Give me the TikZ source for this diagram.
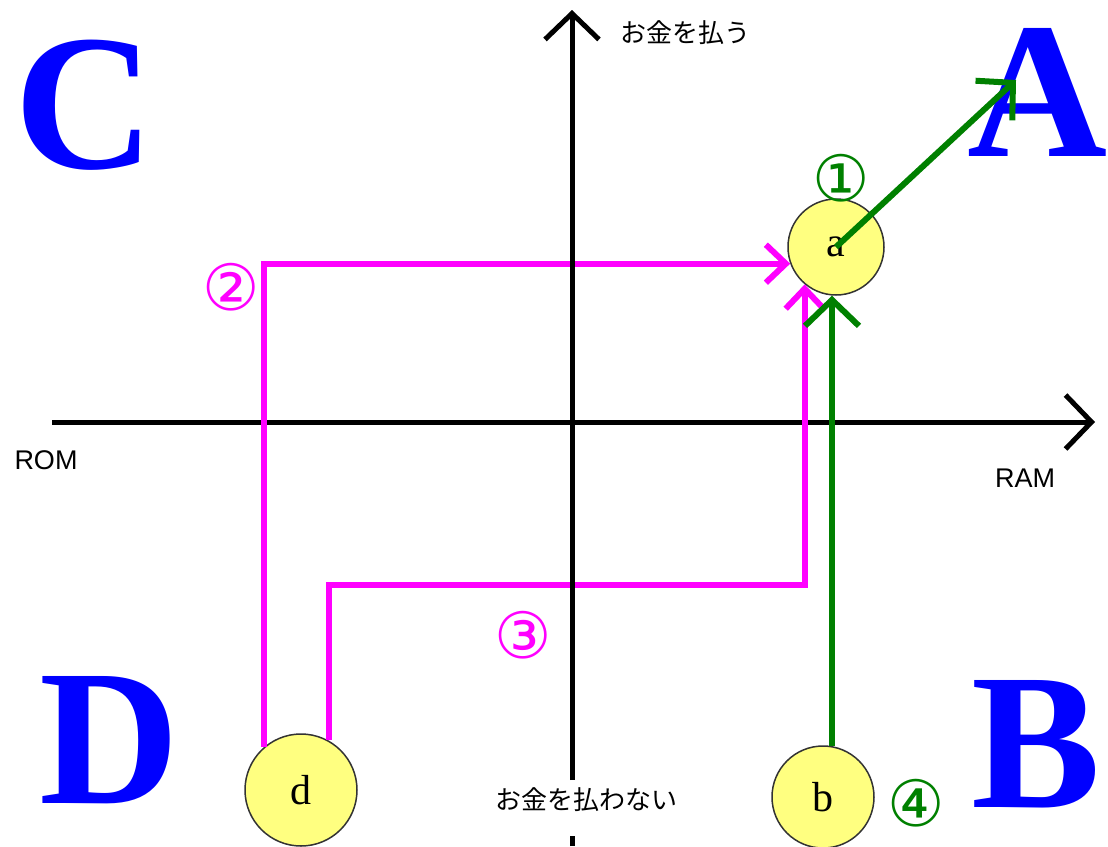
\documentclass[tikz,border=0pt]{standalone}
\usepackage{fontspec}
\setmainfont{Liberation Serif}
\newfontfamily\jpfont{Noto Sans CJK JP}
\newfontfamily\numfont{DejaVu Sans}
\newfontfamily\latfont{Liberation Sans}
\usetikzlibrary{arrows.meta}
\definecolor{routepink}{RGB}{255,0,255}
\definecolor{routegreen}{RGB}{0,128,0}
\definecolor{zoneblue}{RGB}{0,0,255}
\definecolor{chipyellow}{RGB}{255,255,128}
\tikzset{
    every node/.style={inner sep=0pt},
    axis/.style={line width=5pt, -{Straight Barb[length=26pt,width=54pt]}},
    axisline/.style={line width=5pt},
    pinkline/.style={routepink, line width=6pt, -{Straight Barb[length=20pt,width=38pt]}},
    greenline/.style={routegreen, line width=6pt, -{Straight Barb[length=26pt,width=54pt]}},
    chip/.style={circle, draw=black!80, line width=1.5pt, fill=chipyellow, minimum size=96pt, font=\fontsize{42}{42}\selectfont},
    zone/.style={text=zoneblue, font=\fontsize{194}{194}\selectfont\bfseries},
    marker/.style={font=\numfont\fontsize{64}{64}\selectfont},
    jplabel/.style={font=\jpfont\fontsize{26}{26}\selectfont},
    memlabel/.style={font=\latfont\fontsize{27}{27}\selectfont}
}

\begin{document}
\begin{tikzpicture}[
    x=1pt, y=-1pt,
    % pixel grid of the reference, y pointing down
]
\useasboundingbox (0,0) rectangle (1108,846);

\node[zone] (C) at (85,105) {C};
\node[zone] (A) at (1038,92) {A};
\node[zone] (D) at (110,740) {D};
\node[zone] (B) at (1036,744) {B};

\node[chip] (a) at (836,247) {a};
\node[chip, minimum size=112pt] (d) at (301,790) {d};
\node[chip, minimum size=102pt] (b) at (823,797) {b};

\coordinate (xmin) at (52,422);
\coordinate (xmax) at (1095,422);
\coordinate (ymax) at (572,10);
\coordinate (ymin) at (572,846);
\coordinate (gaptop) at (572,780);
\coordinate (gapbot) at (572,836);
\coordinate (lvlthree) at (0,585);
\coordinate (tipA) at (1016,80);

\node[jplabel] (pay) at (685,33) {お金を払う};
\node[jplabel] (nopay) at (586,800) {お金を払わない};
\node[memlabel] (rom) at (46,460) {ROM};
\node[memlabel] (ram) at (1025,478) {RAM};

\node[marker, text=routegreen] (m1) at (841,178) {①};
\node[marker, text=routepink] (m2) at (231,287) {②};
\node[marker, text=routepink] (m3) at (523,635) {③};
\node[marker, text=routegreen] (m4) at (916,803) {④};

\draw[axis] (xmin) -- (xmax);

\draw[pinkline] (d.131) |- (a.200);
\draw[pinkline] (d.61) |- (a.230 |- lvlthree) -- (a.230);
\draw[greenline] (b.80) -- (b.80 |- a.south);
\draw[greenline] (a.center) -- (tipA);

\draw[axisline] (ymin) -- (gapbot);
\draw[axis] (gaptop) -- (ymax);

\end{tikzpicture}
\end{document}
